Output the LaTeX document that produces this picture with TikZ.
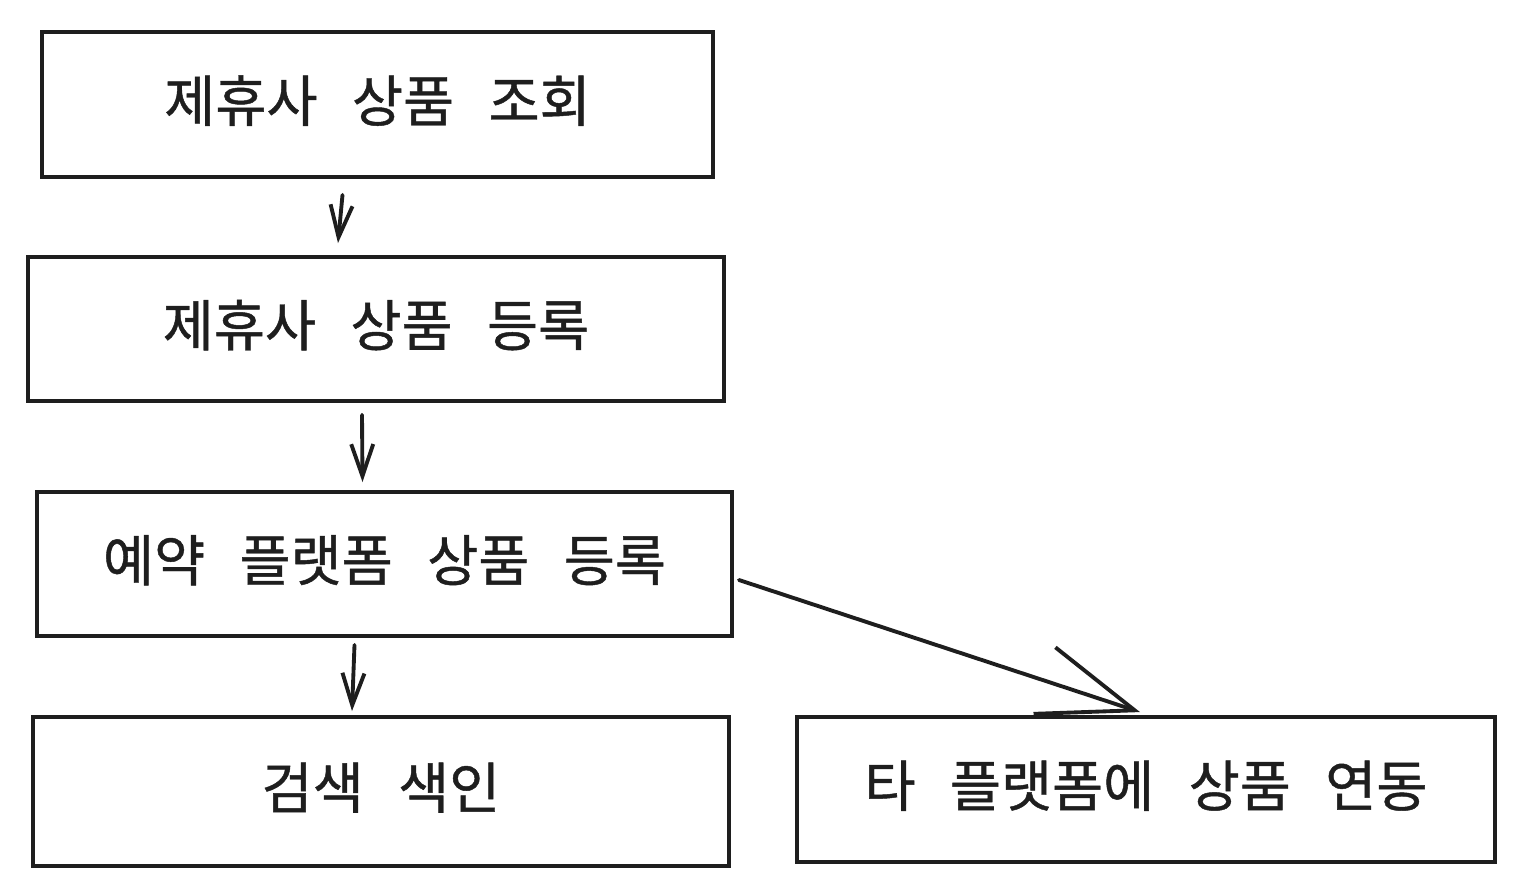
\documentclass[tikz,border=0pt]{standalone}
\usepackage{fontspec}
\setmainfont{Noto Sans CJK KR}[FakeBold=0.8]
\usetikzlibrary{calc}
\usetikzlibrary{arrows.meta}
\definecolor{ink}{HTML}{1E1E1E}
\newcommand\gap{\hspace{0.62em}}

\begin{document}
\begin{tikzpicture}[
  box/.style={draw=ink,line width=1.1pt,rectangle,inner sep=0pt,
    text=ink,text depth=0.12cm,font=\fontsize{15.8}{19}\selectfont},
  arr/.style={draw=ink,line width=1.1pt,line cap=round,
    -{Straight Barb[length=0.32cm,width=0.22cm,line width=1.1pt]}},
  bigarr/.style={draw=ink,line width=1.1pt,line cap=round,
    -{Straight Barb[length=0.95cm,width=0.7cm,line width=1.1pt]}}
]

\useasboundingbox (0,0) rectangle (15.22,-8.93);

\node[box,minimum width=6.71cm,minimum height=1.45cm] (lookup) at (3.775,-1.045) {제휴사\gap 상품\gap 조회};
\node[box,minimum width=6.96cm,minimum height=1.44cm] (partner) at (3.76,-3.29) {제휴사\gap 상품\gap 등록};
\node[box,minimum width=6.95cm,minimum height=1.44cm] (booking) at (3.845,-5.64) {예약\gap 플랫폼\gap 상품\gap 등록};
\node[box,minimum width=6.96cm,minimum height=1.49cm] (search) at (3.81,-7.915) {검색\gap 색인};
\node[box,minimum width=6.98cm,minimum height=1.45cm] (sync) at (11.46,-7.895) {타\gap 플랫폼에\gap 상품\gap 연동};

\draw[arr] ([xshift=-0.35cm,yshift=-0.16cm]lookup.south) -- ([xshift=-0.38cm,yshift=0.12cm]partner.north);
\draw[arr] ([xshift=-0.14cm,yshift=-0.12cm]partner.south) -- ([xshift=-0.22cm,yshift=0.08cm]booking.north);
\draw[arr] ([xshift=-0.30cm,yshift=-0.07cm]booking.south) -- ([xshift=-0.29cm,yshift=0.04cm]search.north);
\draw[bigarr] ([xshift=0.05cm,yshift=-0.16cm]booking.east) -- ([xshift=-0.06cm,yshift=0.03cm]sync.north);

\end{tikzpicture}
\end{document}
